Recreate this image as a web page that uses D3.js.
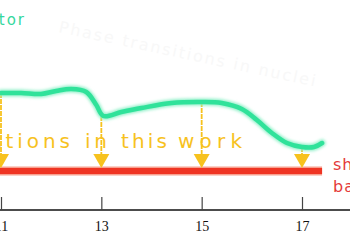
<!DOCTYPE html>
<html>
<head>
<meta charset="utf-8">
<script src="https://cdn.jsdelivr.net/npm/d3@7"></script>
<style>
  html, body { margin: 0; padding: 0; background: #fff; overflow: hidden; }
</style>
</head>
<body>
<svg id="chart"></svg>
<script>
// curve (x = mass number-ish axis, y = arbitrary units)
const curveX = [11, 11.4, 11.8, 12.1, 12.4, 12.7, 12.9, 13.04, 13.4, 13.8, 14.4, 15.0, 15.4, 15.8, 16.1, 16.4, 16.7, 17.0, 17.24, 17.4];
const curveY = [58.5, 58.5, 58, 59.5, 60.5, 59, 52.5, 47, 49, 51, 53.5, 54, 53.5, 50.5, 45, 38.5, 33.5, 31.5, 31.5, 33.5];

// red band
const bandX = [10.8, 17.4];
const bandY = 19.5;

// arrows from curve down to band
const arrowX = [11, 13, 15, 17];
const arrowTop = [58.5, 47, 54, 31.5];

const tickValues = [11, 13, 15, 17];

document.addEventListener("DOMContentLoaded", function () {
    const width = 350, height = 250;

    const svg = d3.select("#chart")
        .attr("width", width)
        .attr("height", height);

    const x = d3.scaleLinear().domain([11, 17]).range([1, 302]);
    const y = d3.scaleLinear().domain([0, 100]).range([210, 10]);

    const defs = svg.append("defs");
    defs.append("filter").attr("id", "glow")
        .attr("x", "-10%").attr("y", "-50%").attr("width", "120%").attr("height", "200%")
        .append("feGaussianBlur").attr("stdDeviation", 1.6);

    // faint background scribble
    svg.append("text")
        .attr("transform", "translate(58,32) rotate(12)")
        .attr("font-family", "DejaVu Sans")
        .attr("font-size", 16)
        .attr("letter-spacing", 2)
        .attr("fill", "#f8f8f8")
        .text("Phase transitions in nuclei");

    // label top-left
    svg.append("text")
        .attr("x", 26).attr("y", 25)
        .attr("text-anchor", "end")
        .attr("font-family", "DejaVu Sans")
        .attr("font-size", 15)
        .attr("letter-spacing", 2)
        .attr("fill", "#35d89e")
        .text("calculator");

    // x axis
    svg.append("line")
        .attr("x1", x(10.9)).attr("x2", x(18))
        .attr("y1", y(0)).attr("y2", y(0))
        .attr("stroke", "#111").attr("stroke-width", 1.4);

    const axis = svg.append("g")
        .attr("transform", `translate(0,${y(0)})`)
        .call(d3.axisBottom(x).tickValues(tickValues).tickSize(-13).tickPadding(11).tickFormat(d3.format("d")));
    axis.select(".domain").remove();
    axis.selectAll(".tick line").attr("stroke", "#444").attr("stroke-width", 1.2);
    axis.selectAll(".tick text")
        .attr("font-family", "Liberation Serif")
        .attr("font-size", 14)
        .attr("fill", "#111");

    // red band
    const bandLine = d3.line().x(d => x(d)).y(() => y(bandY));
    svg.append("path").attr("d", bandLine(bandX))
        .attr("stroke", "#f7a08f").attr("stroke-width", 9).attr("fill", "none");
    svg.append("path").attr("d", bandLine(bandX))
        .attr("stroke", "#ef3423").attr("stroke-width", 6).attr("fill", "none");

    // arrows
    const yellow = "#f7c21e";
    arrowX.forEach((v, i) => {
        const cx = x(v);
        const tip = y(bandY) - 3;
        svg.append("line")
            .attr("x1", cx).attr("x2", cx)
            .attr("y1", y(arrowTop[i])).attr("y2", tip - 12)
            .attr("stroke", yellow).attr("stroke-width", 1.8)
            .attr("stroke-dasharray", "5 1");
        svg.append("path")
            .attr("d", `M${cx - 8},${tip - 14}L${cx + 8},${tip - 14}L${cx},${tip}Z`)
            .attr("fill", yellow);
    });

    // yellow words
    const words = [
        { t: "predictions", at: 70, anchor: "end", len: 150 },
        { t: "in", at: 85, anchor: "start", len: 22 },
        { t: "this", at: 121, anchor: "start", len: 46 },
        { t: "work", at: 178, anchor: "start", len: 64 }
    ];
    svg.selectAll(".word")
        .data(words)
        .enter()
        .append("text")
        .attr("class", "word")
        .attr("x", d => d.at)
        .attr("y", 148)
        .attr("text-anchor", d => d.anchor)
        .attr("textLength", d => d.len)
        .attr("lengthAdjust", "spacing")
        .attr("font-family", "DejaVu Sans")
        .attr("font-size", 20)
        .attr("fill", yellow)
        .text(d => d.t);

    // green curve with soft glow
    const pts = curveX.map((d, i) => [d, curveY[i]]);
    const line = d3.line().x(d => x(d[0])).y(d => y(d[1])).curve(d3.curveCatmullRom);
    svg.append("path").attr("d", line(pts))
        .attr("stroke", "#8ff0c8").attr("stroke-width", 7).attr("fill", "none")
        .attr("stroke-linecap", "round").attr("filter", "url(#glow)");
    svg.append("path").attr("d", line(pts))
        .attr("stroke", "#30e29a").attr("stroke-width", 4.5).attr("fill", "none")
        .attr("stroke-linecap", "round");

    // red side labels
    svg.selectAll(".side")
        .data(["shell", "band"])
        .enter()
        .append("text")
        .attr("class", "side")
        .attr("x", 333)
        .attr("y", (d, i) => 170 + i * 22)
        .attr("font-family", "DejaVu Sans")
        .attr("font-size", 16)
        .attr("letter-spacing", 1)
        .attr("fill", "#e43a3a")
        .text(d => d);
});
</script>
</body>
</html>
